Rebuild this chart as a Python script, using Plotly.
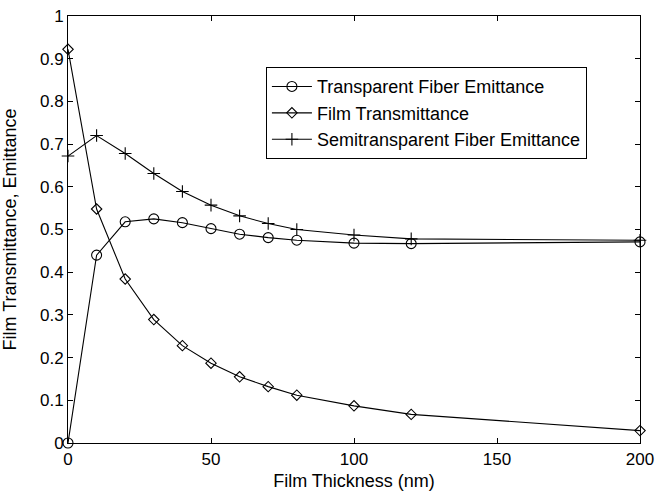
import plotly.graph_objects as go

# Film thickness (nm)
thickness = [0, 10, 20, 30, 40, 50, 60, 70, 80, 100, 120, 200]

transparent_fiber_emittance = [0.0, 0.44, 0.518, 0.525, 0.516, 0.502, 0.489, 0.481, 0.475, 0.468, 0.467, 0.471]
film_transmittance = [0.922, 0.548, 0.384, 0.289, 0.228, 0.187, 0.155, 0.132, 0.112, 0.087, 0.067, 0.029]
semitransparent_fiber_emittance = [0.672, 0.72, 0.678, 0.631, 0.589, 0.557, 0.532, 0.514, 0.5, 0.487, 0.478, 0.475]

series_names = [
    "Transparent Fiber Emittance",
    "Film Transmittance",
    "Semitransparent Fiber Emittance",
]

x_ticks = [0, 50, 100, 150, 200]
y_ticks = [0, 0.1, 0.2, 0.3, 0.4, 0.5, 0.6, 0.7, 0.8, 0.9, 1]
y_tick_labels = ["0", "0.1", "0.2", "0.3", "0.4", "0.5", "0.6", "0.7", "0.8", "0.9", "1"]

font_family = "Liberation Sans, Arial, Helvetica, sans-serif"

fig = go.Figure()

series = [
    (transparent_fiber_emittance, "circle-open", 10),
    (film_transmittance, "diamond-open", 8),
    (semitransparent_fiber_emittance, "cross-thin-open", 9),
]

for i, (values, symbol, size) in enumerate(series):
    fig.add_trace(go.Scatter(
        x=thickness,
        y=values,
        name=series_names[i],
        legendgroup=f"g{i}",
        mode="lines+markers",
        line=dict(color="black", width=1.1),
        marker=dict(symbol=symbol, size=size, color="black",
                    line=dict(color="black", width=1.1)),
        cliponaxis=False,
    ))

axis_common = dict(
    showline=True,
    linecolor="black",
    linewidth=1,
    mirror="ticks",
    ticks="inside",
    ticklen=5,
    tickcolor="black",
    tickwidth=1,
    showgrid=False,
    zeroline=False,
    automargin=False,
    tickfont=dict(family=font_family, size=17, color="black"),
)

fig.update_xaxes(
    range=[0, 200],
    tickvals=x_ticks,
    ticklabelstandoff=1,
    title=dict(text="Film Thickness (nm)", font=dict(family=font_family, size=18, color="black"), standoff=6),
    **axis_common,
)
fig.update_yaxes(
    range=[0, 1],
    tickvals=y_ticks,
    ticktext=y_tick_labels,
    title=dict(text="Film Transmittance, Emittance", font=dict(family=font_family, size=18, color="black"), standoff=20),
    **axis_common,
)

fig.update_layout(
    width=665,
    height=491,
    margin=dict(l=68, r=25, t=16, b=48),
    paper_bgcolor="white",
    plot_bgcolor="white",
    showlegend=True,
    legend=dict(
        x=0.346,
        y=0.88,
        xanchor="left",
        yanchor="top",
        bgcolor="white",
        bordercolor="black",
        borderwidth=1,
        font=dict(family=font_family, size=18, color="black"),
        tracegroupgap=0,
        itemwidth=40,
    ),
)

fig.write_html("out.html")
